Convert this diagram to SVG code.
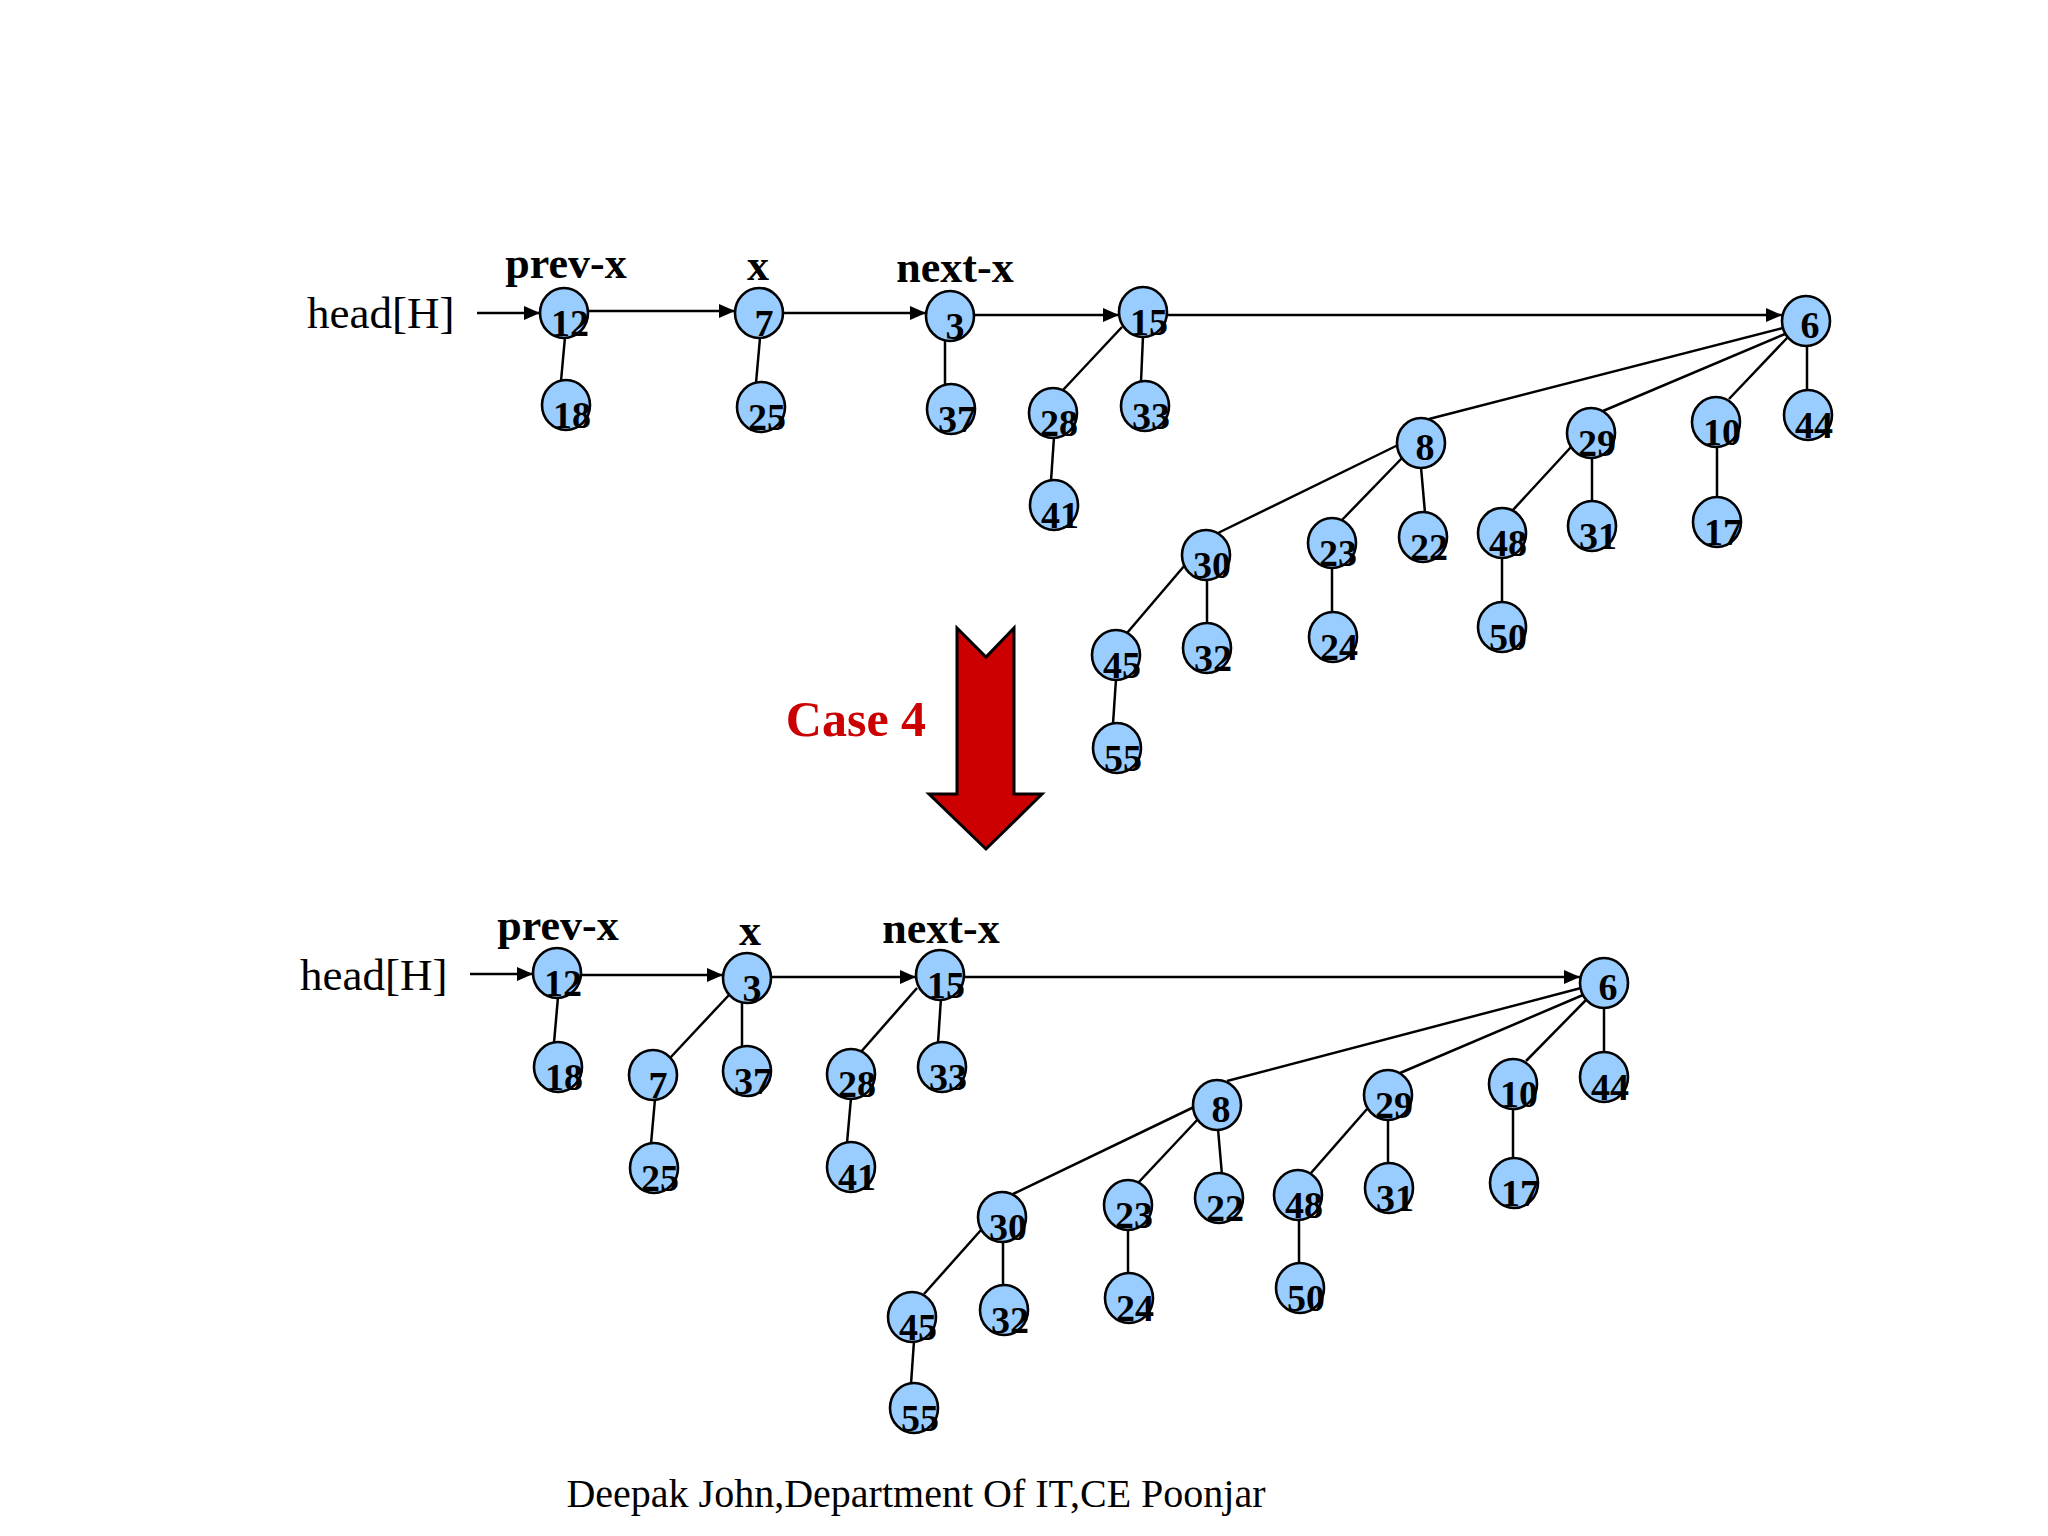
<svg xmlns="http://www.w3.org/2000/svg" width="2048" height="1536" viewBox="0 0 2048 1536">
<style>
.n{fill:#99CCFF;stroke:#000;stroke-width:2.6}
.nt{font-family:"Liberation Serif","Times New Roman",serif;font-weight:bold;font-size:38px;fill:#000;text-anchor:middle}
.e{stroke:#000;stroke-width:2.5;fill:none}
.a{stroke:#000;stroke-width:2.5;fill:none;marker-end:url(#ah)}
.lb{font-family:"Liberation Serif","Times New Roman",serif;font-weight:bold;font-size:44px;fill:#000;text-anchor:middle}
.hd{font-family:"Liberation Serif","Times New Roman",serif;font-size:45px;fill:#000}
</style>
<defs>
<marker id="ah" markerUnits="userSpaceOnUse" markerWidth="16" markerHeight="14" refX="16" refY="7" orient="auto">
<path d="M0,0 L16,7 L0,14 z" fill="#000"/>
</marker>
</defs>
<rect width="2048" height="1536" fill="#FFFFFF"/>

<g id="labels">
<text class="hd" x="307" y="328">head[H]</text>
<text class="lb" x="566" y="278">prev-x</text>
<text class="lb" x="758" y="280">x</text>
<text class="lb" x="955" y="282">next-x</text>
<text class="hd" x="300" y="990">head[H]</text>
<text class="lb" x="558" y="940">prev-x</text>
<text class="lb" x="750" y="945">x</text>
<text class="lb" x="941" y="943">next-x</text>
<text x="856" y="736" font-family="Liberation Serif, Times New Roman, serif" font-weight="bold" font-size="50" fill="#CC0000" text-anchor="middle">Case 4</text>
<text x="916" y="1507" font-family="Liberation Serif, Times New Roman, serif" font-size="40" fill="#000" text-anchor="middle">Deepak John,Department Of IT,CE Poonjar</text>
</g>

<g id="case-arrow">
<path d="M957,628 L986,657 L1014,628 L1014,794 L1042,794 L986,849 L929,794 L957,794 Z" fill="#CC0000" stroke="#000" stroke-width="3" stroke-linejoin="miter"/>
</g>

<g id="connectors">
<line class="a" x1="477" y1="313" x2="540" y2="313"/>
<line class="a" x1="588" y1="311" x2="735" y2="311"/>
<line class="a" x1="783" y1="313" x2="926" y2="313"/>
<line class="a" x1="975" y1="315" x2="1119" y2="315"/>
<line class="a" x1="1167" y1="315" x2="1782" y2="315"/>
<line class="e" x1="565" y1="337" x2="561" y2="381"/>
<line class="e" x1="760" y1="338" x2="756" y2="383"/>
<line class="e" x1="945" y1="341" x2="945" y2="385"/>
<line class="e" x1="1122" y1="327" x2="1063" y2="390"/>
<line class="e" x1="1143" y1="336" x2="1141" y2="382"/>
<line class="e" x1="1054" y1="437" x2="1051" y2="481"/>
<line class="e" x1="1783" y1="328" x2="1429" y2="419"/>
<line class="e" x1="1785" y1="334" x2="1603" y2="411"/>
<line class="e" x1="1788" y1="337" x2="1729" y2="399"/>
<line class="e" x1="1807" y1="346" x2="1807" y2="391"/>
<line class="e" x1="1398" y1="445" x2="1218" y2="533"/>
<line class="e" x1="1403" y1="457" x2="1341" y2="521"/>
<line class="e" x1="1421" y1="467" x2="1425" y2="513"/>
<line class="e" x1="1571" y1="447" x2="1512" y2="511"/>
<line class="e" x1="1592" y1="457" x2="1592" y2="502"/>
<line class="e" x1="1717" y1="446" x2="1717" y2="498"/>
<line class="e" x1="1185" y1="565" x2="1127" y2="633"/>
<line class="e" x1="1207" y1="579" x2="1207" y2="624"/>
<line class="e" x1="1332" y1="567" x2="1332" y2="613"/>
<line class="e" x1="1502" y1="557" x2="1502" y2="603"/>
<line class="e" x1="1116" y1="679" x2="1113" y2="724"/>
<line class="a" x1="470" y1="974" x2="533" y2="974"/>
<line class="a" x1="581" y1="975" x2="723" y2="975"/>
<line class="a" x1="771" y1="977" x2="916" y2="977"/>
<line class="a" x1="964" y1="977" x2="1580" y2="977"/>
<line class="e" x1="558" y1="997" x2="554" y2="1043"/>
<line class="e" x1="729" y1="995" x2="670" y2="1058"/>
<line class="e" x1="742" y1="1002" x2="742" y2="1047"/>
<line class="e" x1="655" y1="1099" x2="651" y2="1144"/>
<line class="e" x1="917" y1="988" x2="860" y2="1053"/>
<line class="e" x1="941" y1="998" x2="938" y2="1043"/>
<line class="e" x1="851" y1="1098" x2="847" y2="1143"/>
<line class="e" x1="1581" y1="988" x2="1227" y2="1081"/>
<line class="e" x1="1583" y1="995" x2="1400" y2="1073"/>
<line class="e" x1="1586" y1="1000" x2="1526" y2="1061"/>
<line class="e" x1="1604" y1="1007" x2="1604" y2="1053"/>
<line class="e" x1="1194" y1="1107" x2="1013" y2="1194"/>
<line class="e" x1="1199" y1="1118" x2="1138" y2="1183"/>
<line class="e" x1="1218" y1="1129" x2="1222" y2="1175"/>
<line class="e" x1="1367" y1="1109" x2="1311" y2="1173"/>
<line class="e" x1="1388" y1="1119" x2="1388" y2="1164"/>
<line class="e" x1="1513" y1="1108" x2="1513" y2="1160"/>
<line class="e" x1="981" y1="1230" x2="924" y2="1294"/>
<line class="e" x1="1003" y1="1241" x2="1003" y2="1286"/>
<line class="e" x1="1128" y1="1229" x2="1128" y2="1274"/>
<line class="e" x1="1299" y1="1219" x2="1299" y2="1264"/>
<line class="e" x1="914" y1="1341" x2="911" y2="1384"/>
</g>

<g id="t12"><ellipse class="n" cx="564" cy="313" rx="24" ry="25"/><text class="nt" x="570" y="336">12</text></g>
<g id="t18"><ellipse class="n" cx="566" cy="405" rx="24" ry="25"/><text class="nt" x="572" y="428">18</text></g>
<g id="t7"><ellipse class="n" cx="759" cy="313" rx="24" ry="25"/><text class="nt" x="764" y="336">7</text></g>
<g id="t25"><ellipse class="n" cx="761" cy="407" rx="24" ry="25"/><text class="nt" x="767" y="430">25</text></g>
<g id="t3"><ellipse class="n" cx="950" cy="316" rx="24" ry="25"/><text class="nt" x="955" y="339">3</text></g>
<g id="t37"><ellipse class="n" cx="951" cy="409" rx="24" ry="25"/><text class="nt" x="957" y="432">37</text></g>
<g id="t15"><ellipse class="n" cx="1143" cy="312" rx="24" ry="25"/><text class="nt" x="1149" y="335">15</text></g>
<g id="t28"><ellipse class="n" cx="1053" cy="413" rx="24" ry="25"/><text class="nt" x="1059" y="436">28</text></g>
<g id="t41"><ellipse class="n" cx="1054" cy="505" rx="24" ry="25"/><text class="nt" x="1060" y="528">41</text></g>
<g id="t33"><ellipse class="n" cx="1145" cy="406" rx="24" ry="25"/><text class="nt" x="1151" y="429">33</text></g>
<g id="t6"><ellipse class="n" cx="1806" cy="321" rx="24" ry="25"/><text class="nt" x="1810" y="338">6</text></g>
<g id="t8"><ellipse class="n" cx="1421" cy="443" rx="24" ry="25"/><text class="nt" x="1425" y="460">8</text></g>
<g id="t29"><ellipse class="n" cx="1591" cy="433" rx="24" ry="25"/><text class="nt" x="1597" y="456">29</text></g>
<g id="t10"><ellipse class="n" cx="1716" cy="422" rx="24" ry="25"/><text class="nt" x="1722" y="445">10</text></g>
<g id="t44"><ellipse class="n" cx="1808" cy="415" rx="24" ry="25"/><text class="nt" x="1814" y="438">44</text></g>
<g id="t30"><ellipse class="n" cx="1206" cy="555" rx="24" ry="25"/><text class="nt" x="1212" y="578">30</text></g>
<g id="t23"><ellipse class="n" cx="1332" cy="543" rx="24" ry="25"/><text class="nt" x="1338" y="566">23</text></g>
<g id="t22"><ellipse class="n" cx="1423" cy="537" rx="24" ry="25"/><text class="nt" x="1429" y="560">22</text></g>
<g id="t48"><ellipse class="n" cx="1502" cy="533" rx="24" ry="25"/><text class="nt" x="1508" y="556">48</text></g>
<g id="t31"><ellipse class="n" cx="1592" cy="526" rx="24" ry="25"/><text class="nt" x="1598" y="549">31</text></g>
<g id="t17"><ellipse class="n" cx="1717" cy="522" rx="24" ry="25"/><text class="nt" x="1723" y="545">17</text></g>
<g id="t45"><ellipse class="n" cx="1116" cy="655" rx="24" ry="25"/><text class="nt" x="1122" y="678">45</text></g>
<g id="t32"><ellipse class="n" cx="1207" cy="648" rx="24" ry="25"/><text class="nt" x="1213" y="671">32</text></g>
<g id="t24"><ellipse class="n" cx="1333" cy="637" rx="24" ry="25"/><text class="nt" x="1339" y="660">24</text></g>
<g id="t50"><ellipse class="n" cx="1502" cy="627" rx="24" ry="25"/><text class="nt" x="1508" y="650">50</text></g>
<g id="t55"><ellipse class="n" cx="1117" cy="748" rx="24" ry="25"/><text class="nt" x="1123" y="771">55</text></g>

<g id="b12"><ellipse class="n" cx="557" cy="973" rx="24" ry="25"/><text class="nt" x="563" y="996">12</text></g>
<g id="b18"><ellipse class="n" cx="558" cy="1067" rx="24" ry="25"/><text class="nt" x="564" y="1090">18</text></g>
<g id="b3"><ellipse class="n" cx="747" cy="978" rx="24" ry="25"/><text class="nt" x="752" y="1001">3</text></g>
<g id="b7"><ellipse class="n" cx="653" cy="1075" rx="24" ry="25"/><text class="nt" x="658" y="1098">7</text></g>
<g id="b37"><ellipse class="n" cx="747" cy="1071" rx="24" ry="25"/><text class="nt" x="753" y="1094">37</text></g>
<g id="b25"><ellipse class="n" cx="654" cy="1168" rx="24" ry="25"/><text class="nt" x="660" y="1191">25</text></g>
<g id="b15"><ellipse class="n" cx="940" cy="975" rx="24" ry="25"/><text class="nt" x="946" y="998">15</text></g>
<g id="b28"><ellipse class="n" cx="851" cy="1074" rx="24" ry="25"/><text class="nt" x="857" y="1097">28</text></g>
<g id="b41"><ellipse class="n" cx="851" cy="1167" rx="24" ry="25"/><text class="nt" x="857" y="1190">41</text></g>
<g id="b33"><ellipse class="n" cx="942" cy="1067" rx="24" ry="25"/><text class="nt" x="948" y="1090">33</text></g>
<g id="b6"><ellipse class="n" cx="1604" cy="983" rx="24" ry="25"/><text class="nt" x="1608" y="1000">6</text></g>
<g id="b8"><ellipse class="n" cx="1217" cy="1105" rx="24" ry="25"/><text class="nt" x="1221" y="1122">8</text></g>
<g id="b29"><ellipse class="n" cx="1388" cy="1095" rx="24" ry="25"/><text class="nt" x="1394" y="1118">29</text></g>
<g id="b10"><ellipse class="n" cx="1513" cy="1084" rx="24" ry="25"/><text class="nt" x="1519" y="1107">10</text></g>
<g id="b44"><ellipse class="n" cx="1604" cy="1077" rx="24" ry="25"/><text class="nt" x="1610" y="1100">44</text></g>
<g id="b30"><ellipse class="n" cx="1002" cy="1217" rx="24" ry="25"/><text class="nt" x="1008" y="1240">30</text></g>
<g id="b23"><ellipse class="n" cx="1128" cy="1205" rx="24" ry="25"/><text class="nt" x="1134" y="1228">23</text></g>
<g id="b22"><ellipse class="n" cx="1219" cy="1198" rx="24" ry="25"/><text class="nt" x="1225" y="1221">22</text></g>
<g id="b48"><ellipse class="n" cx="1298" cy="1195" rx="24" ry="25"/><text class="nt" x="1304" y="1218">48</text></g>
<g id="b31"><ellipse class="n" cx="1389" cy="1188" rx="24" ry="25"/><text class="nt" x="1395" y="1211">31</text></g>
<g id="b17"><ellipse class="n" cx="1514" cy="1183" rx="24" ry="25"/><text class="nt" x="1520" y="1206">17</text></g>
<g id="b45"><ellipse class="n" cx="912" cy="1317" rx="24" ry="25"/><text class="nt" x="918" y="1340">45</text></g>
<g id="b32"><ellipse class="n" cx="1004" cy="1310" rx="24" ry="25"/><text class="nt" x="1010" y="1333">32</text></g>
<g id="b24"><ellipse class="n" cx="1129" cy="1298" rx="24" ry="25"/><text class="nt" x="1135" y="1321">24</text></g>
<g id="b50"><ellipse class="n" cx="1300" cy="1288" rx="24" ry="25"/><text class="nt" x="1306" y="1311">50</text></g>
<g id="b55"><ellipse class="n" cx="914" cy="1408" rx="24" ry="25"/><text class="nt" x="920" y="1431">55</text></g>
</svg>
